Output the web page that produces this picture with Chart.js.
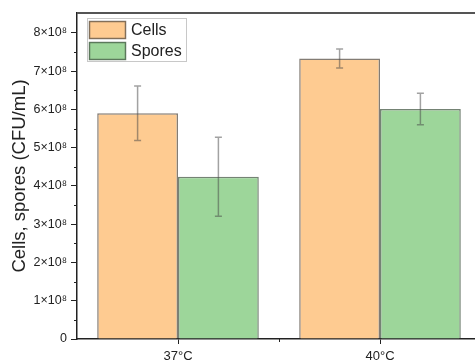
<!DOCTYPE html>
<html>
<head>
<meta charset="utf-8">
<script src="https://cdn.jsdelivr.net/npm/chart.js@4.4.1/dist/chart.umd.min.js"></script>
<style>
  html, body { margin: 0; padding: 0; background: #fff; overflow: hidden; }
  #wrap { width: 490px; height: 363px; position: relative; }
</style>
</head>
<body>
<div id="wrap"><canvas id="chart"></canvas></div>
<script>
'use strict';

// data
const categories = ['37°C', '40°C'];
const cellsValues = [5.9e8, 7.33e8];
const cellsErrors = [0.71e8, 0.25e8];
const sporesValues = [4.24e8, 6.01e8];
const sporesErrors = [1.03e8, 0.41e8];
const yTickValues = [0, 1e8, 2e8, 3e8, 4e8, 5e8, 6e8, 7e8, 8e8];
const yMinorValues = [0.5e8, 1.5e8, 2.5e8, 3.5e8, 4.5e8, 5.5e8, 6.5e8, 7.5e8];

Chart.defaults.font.family = '"Liberation Sans", Arial, sans-serif';
Chart.defaults.color = '#222';

let canvasElem = document.getElementById('chart');

// error bars on top of each bar
const errorBars = {
  id: 'errorBars',
  afterDatasetsDraw(chart) {
    const ctx = chart.ctx;
    const y = chart.scales.y;
    ctx.save();
    ctx.strokeStyle = 'rgba(70,70,70,0.5)';
    ctx.lineWidth = 1.5;
    chart.data.datasets.forEach((ds, i) => {
      chart.getDatasetMeta(i).data.forEach((bar, j) => {
        const top = y.getPixelForValue(ds.data[j] + ds.errors[j]);
        const bot = y.getPixelForValue(ds.data[j] - ds.errors[j]);
        ctx.beginPath();
        ctx.moveTo(bar.x, top); ctx.lineTo(bar.x, bot);
        ctx.moveTo(bar.x - 3.5, top); ctx.lineTo(bar.x + 3.5, top);
        ctx.moveTo(bar.x - 3.5, bot); ctx.lineTo(bar.x + 3.5, bot);
        ctx.stroke();
      });
    });
    ctx.restore();
  }
};

// frame top line, minor ticks and the boxed legend
const frame = {
  id: 'frame',
  afterDraw(chart) {
    const ctx = chart.ctx;
    const a = chart.chartArea;
    const y = chart.scales.y;
    const x = chart.scales.x;
    ctx.save();
    ctx.strokeStyle = '#555';
    ctx.lineWidth = 2;
    ctx.beginPath();
    ctx.moveTo(a.left, a.top); ctx.lineTo(a.right, a.top);
    ctx.stroke();

    ctx.strokeStyle = '#222';
    ctx.lineWidth = 1;
    ctx.beginPath();
    yMinorValues.forEach(v => {
      const py = Math.round(y.getPixelForValue(v)) + 0.5;
      ctx.moveTo(a.left - 3, py); ctx.lineTo(a.left, py);
    });
    const mx = Math.round((x.getPixelForValue(0) + x.getPixelForValue(1)) / 2) + 0.5;
    ctx.moveTo(mx, a.bottom); ctx.lineTo(mx, a.bottom + 3);
    ctx.stroke();

    // legend
    ctx.fillStyle = '#fff';
    ctx.strokeStyle = '#c8c8c8';
    ctx.lineWidth = 1;
    ctx.fillRect(87, 18, 100, 44);
    ctx.strokeRect(87.5, 18.5, 99, 43);
    ctx.font = '16px "Liberation Sans", Arial, sans-serif';
    ctx.textBaseline = 'middle';
    chart.data.datasets.forEach((ds, i) => {
      const top = 21 + i * 21;
      ctx.fillStyle = ds.backgroundColor;
      ctx.fillRect(89, top, 37, 18);
      ctx.strokeStyle = ds.borderColor;
      ctx.lineWidth = 1.5;
      ctx.strokeRect(89.5, top + 0.5, 36, 17);
      ctx.fillStyle = '#222';
      ctx.fillText(ds.label, 131, top + 9.5);
    });
    ctx.restore();
  }
};

const chartData = {
  labels: categories,
  datasets: [
    {
      label: 'Cells',
      data: cellsValues,
      errors: cellsErrors,
      backgroundColor: '#fecb91',
      borderColor: 'rgba(90,80,70,0.75)',
      borderWidth: 1.5,
    },
    {
      label: 'Spores',
      data: sporesValues,
      errors: sporesErrors,
      backgroundColor: '#9dd69a',
      borderColor: 'rgba(70,90,70,0.75)',
      borderWidth: 1.5,
    },
  ],
};

const chartConfig = {
  type: 'bar',
  data: chartData,
  options: {
    responsive: true,
    maintainAspectRatio: false,
    animation: false,
    categoryPercentage: 0.8,
    barPercentage: 1.0,
    layout: { padding: { top: 13, right: 9, left: 0, bottom: 0 } },
    plugins: {
      legend: { display: false },
      tooltip: { enabled: false },
    },
    scales: {
      x: {
        offset: true,
        grid: { display: true, offset: false, drawOnChartArea: false, tickLength: 5, color: '#222', lineWidth: 1 },
        border: { display: true, color: '#222', width: 1.5 },
        ticks: { font: { size: 13 }, padding: 5, color: '#222' },
        afterFit(axis) { axis.height = 24; },
      },
      y: {
        min: 0,
        max: 8.52e8,
        grid: { display: true, drawOnChartArea: false, tickLength: 6, color: '#222', lineWidth: 1 },
        border: { display: true, color: '#222', width: 1.5 },
        afterBuildTicks(axis) { axis.ticks = yTickValues.map(v => ({ value: v })); },
        ticks: {
          font: { size: 12.5 },
          padding: 4,
          color: '#222',
          callback: v => v === 0 ? '0' : (v / 1e8) + '×10⁸',
        },
        title: {
          display: true,
          text: 'Cells, spores (CFU/mL)',
          font: { size: 18.5 },
          color: '#222',
          padding: { top: 9, bottom: 0 },
        },
        afterFit(axis) { axis.width = 77; },
      },
    },
  },
  plugins: [errorBars, frame],
};

const myChart = new Chart(canvasElem, chartConfig);
</script>
</body>
</html>
